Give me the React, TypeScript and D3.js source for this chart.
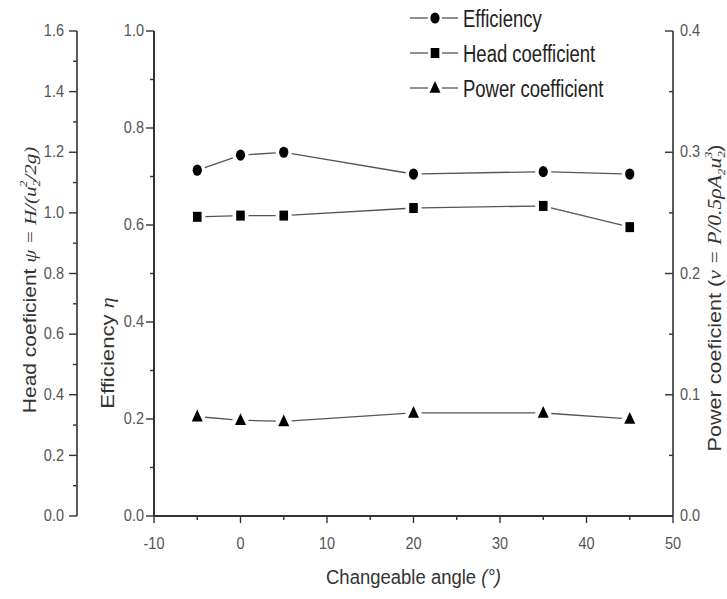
import React from "react";
import * as d3 from "d3";

const angles = [-5, 0, 5, 20, 35, 45];
const efficiency = [0.713, 0.744, 0.75, 0.705, 0.71, 0.705];
const headCoef = [0.987, 0.991, 0.991, 1.016, 1.023, 0.953];
const powerCoef = [0.082, 0.079, 0.078, 0.085, 0.085, 0.08];

const xTicks = [-10, 0, 10, 20, 30, 40, 50];
const effTicks = [0, 0.2, 0.4, 0.6, 0.8, 1.0];
const headTicks = [0, 0.2, 0.4, 0.6, 0.8, 1.0, 1.2, 1.4, 1.6];
const powTicks = [0, 0.1, 0.2, 0.3, 0.4];
const legendNames = ["Efficiency", "Head coefficient", "Power coefficient"];

const W = 727, H = 599;
const L = 154, R = 673, T = 31, B = 516;
const OUTER = 77;
const FONT = "'Liberation Sans', Arial, sans-serif";
const MATH = "'Liberation Serif', 'Times New Roman', serif";
const S = 1.2; // vertical stretch of text

const x = d3.scaleLinear().domain([-10, 50]).range([L, R]);
const yEff = d3.scaleLinear().domain([0, 1]).range([B, T]);
const yHead = d3.scaleLinear().domain([0, 1.6]).range([B, T]);
const yPow = d3.scaleLinear().domain([0, 0.4]).range([B, T]);

type Pt = [number, number];

function gappedSegments(pts: Pt[], gap: number) {
  const segs: string[] = [];
  for (let i = 0; i < pts.length - 1; i++) {
    const [x1, y1] = pts[i];
    const [x2, y2] = pts[i + 1];
    const dx = x2 - x1, dy = y2 - y1;
    const len = Math.hypot(dx, dy);
    if (len <= gap * 2) continue;
    const ux = dx / len, uy = dy / len;
    segs.push(
      `M${x1 + ux * gap},${y1 + uy * gap}L${x2 - ux * gap},${y2 - uy * gap}`
    );
  }
  return segs.join("");
}

function Marker({ kind, cx, cy }: { kind: number; cx: number; cy: number }) {
  if (kind === 0) return <ellipse cx={cx} cy={cy} rx={4.6} ry={5.6} fill="#000" />;
  if (kind === 1)
    return <rect x={cx - 4.3} y={cy - 5} width={8.6} height={10} fill="#000" />;
  const p = d3.path();
  p.moveTo(cx, cy - 7);
  p.lineTo(cx + 5.5, cy + 4.8);
  p.lineTo(cx - 5.5, cy + 4.8);
  p.closePath();
  return <path d={p.toString()} fill="#000" />;
}

function HText({ x: tx, y: ty, s = S, children, ...rest }: any) {
  return (
    <g transform={`translate(${tx},${ty}) scale(1,${s})`}>
      <text x={0} y={0} {...rest}>{children}</text>
    </g>
  );
}

function VText({ x: tx, y: ty, s = S, children, ...rest }: any) {
  return (
    <g transform={`translate(${tx},${ty}) scale(1,${s}) rotate(-90)`}>
      <text x={0} y={0} textAnchor="middle" {...rest}>{children}</text>
    </g>
  );
}

export default function App() {
  const series = [
    angles.map((a, i) => [x(a), yEff(efficiency[i])] as Pt),
    angles.map((a, i) => [x(a), yHead(headCoef[i])] as Pt),
    angles.map((a, i) => [x(a), yPow(powerCoef[i])] as Pt),
  ];
  const minorX = d3.range(-10, 51, 5);
  const minorEff = d3.range(0, 1.0001, 0.1);
  const minorHead = d3.range(0, 1.6001, 0.1);
  const minorPow = d3.range(0, 0.4001, 0.05);
  const axisColor = "#333";
  const labelColor = "#555";
  const tickFont = 14.5;

  return (
    <svg width={W} height={H} style={{ position: "absolute", left: 0, top: 0, background: "#fff" }}
      fontFamily={FONT}>
      {/* outer head axis */}
      <line x1={OUTER} x2={OUTER} y1={T} y2={B} stroke={axisColor} strokeWidth={1.6} />
      {minorHead.map((v, i) => (
        <line key={"hm" + i} x1={OUTER} x2={OUTER - (i % 2 === 0 ? 8 : 4)} y1={yHead(v)} y2={yHead(v)}
          stroke={axisColor} strokeWidth={1.4} />
      ))}
      {headTicks.map((v) => (
        <HText key={"ht" + v} x={OUTER - 13} y={yHead(v) + 5.2} textAnchor="end" fontSize={tickFont}
          fill={labelColor}>{v.toFixed(1)}</HText>
      ))}

      {/* efficiency axis */}
      <line x1={L} x2={L} y1={T} y2={B} stroke={axisColor} strokeWidth={2} />
      {minorEff.map((v, i) => (
        <line key={"em" + i} x1={L} x2={L - (i % 2 === 0 ? 8 : 4)} y1={yEff(v)} y2={yEff(v)}
          stroke={axisColor} strokeWidth={1.4} />
      ))}
      {effTicks.map((v) => (
        <HText key={"et" + v} x={L - 10} y={yEff(v) + 5.2} textAnchor="end" fontSize={tickFont}
          fill={labelColor}>{v.toFixed(1)}</HText>
      ))}

      {/* power axis */}
      <line x1={R} x2={R} y1={T} y2={B} stroke={axisColor} strokeWidth={1.6} />
      {minorPow.map((v, i) => (
        <line key={"pm" + i} x1={R} x2={R - (i % 2 === 0 ? 8 : 4)} y1={yPow(v)} y2={yPow(v)}
          stroke={axisColor} strokeWidth={1.4} />
      ))}
      {powTicks.map((v) => (
        <HText key={"pt" + v} x={R + 7} y={yPow(v) + 5.2} textAnchor="start" fontSize={tickFont}
          fill={labelColor}>{v.toFixed(1)}</HText>
      ))}

      {/* x axis */}
      <line x1={L} x2={R} y1={B} y2={B} stroke={axisColor} strokeWidth={2} />
      {minorX.map((v, i) => (
        <line key={"xm" + i} x1={x(v)} x2={x(v)} y1={B} y2={B + (i % 2 === 0 ? 7 : 4)}
          stroke={axisColor} strokeWidth={1.4} />
      ))}
      {xTicks.map((v) => (
        <HText key={"xt" + v} x={x(v)} y={B + 33} textAnchor="middle" fontSize={tickFont}
          fill={labelColor}>{v}</HText>
      ))}

      {/* axis titles */}
      <HText x={(L + R) / 2} y={584} s={1.1} textAnchor="middle" fontSize={18.5} fill="#333">
        Changeable angle <tspan fontStyle="italic">(°)</tspan>
      </HText>
      <VText x={36} y={280} fontSize={17.5} fill="#333">
        Head coeficient <tspan fontStyle="italic" fontFamily={MATH}>ψ = H/(u</tspan>
        <tspan fontStyle="italic" fontSize={11} dy={4} fontFamily={MATH}>2</tspan>
        <tspan fontStyle="italic" fontSize={11} dx={-6} dy={-13} fontFamily={MATH}>2</tspan>
        <tspan fontStyle="italic" dy={9} fontFamily={MATH}>/2g)</tspan>
      </VText>
      <VText x={114} y={353} fontSize={18.5} fill="#333">
        Efficiency <tspan fontStyle="italic" fontFamily={MATH}>η</tspan>
      </VText>
      <VText x={721} y={298} fontSize={18} fill="#333">
        Power coeficient (<tspan fontStyle="italic" fontFamily={MATH}>ν = P/0.5ρA</tspan>
        <tspan fontStyle="italic" fontSize={11} dy={4} fontFamily={MATH}>2</tspan>
        <tspan fontStyle="italic" dy={-4} fontFamily={MATH}>u</tspan>
        <tspan fontStyle="italic" fontSize={11} dy={4} fontFamily={MATH}>2</tspan>
        <tspan fontStyle="italic" fontSize={11} dx={-6} dy={-13} fontFamily={MATH}>3</tspan>
        <tspan dy={9}>)</tspan>
      </VText>

      {/* series */}
      {series.map((pts, k) => (
        <g key={"s" + k}>
          <path d={gappedSegments(pts, 8)} stroke="#555" strokeWidth={1.3} fill="none" />
          {pts.map(([cx, cy], i) => (
            <Marker key={i} kind={k} cx={cx} cy={cy} />
          ))}
        </g>
      ))}

      {/* legend */}
      {legendNames.map((name, k) => {
        const ly = 18 + k * 35;
        return (
          <g key={"lg" + k}>
            <line x1={410} x2={428} y1={ly} y2={ly} stroke="#555" strokeWidth={1.3} />
            <line x1={442} x2={458} y1={ly} y2={ly} stroke="#555" strokeWidth={1.3} />
            <Marker kind={k} cx={435} cy={ly} />
            <HText x={463} y={ly + 8.5} s={1.3} fontSize={18.5} fill="#222">{name}</HText>
          </g>
        );
      })}
    </svg>
  );
}
